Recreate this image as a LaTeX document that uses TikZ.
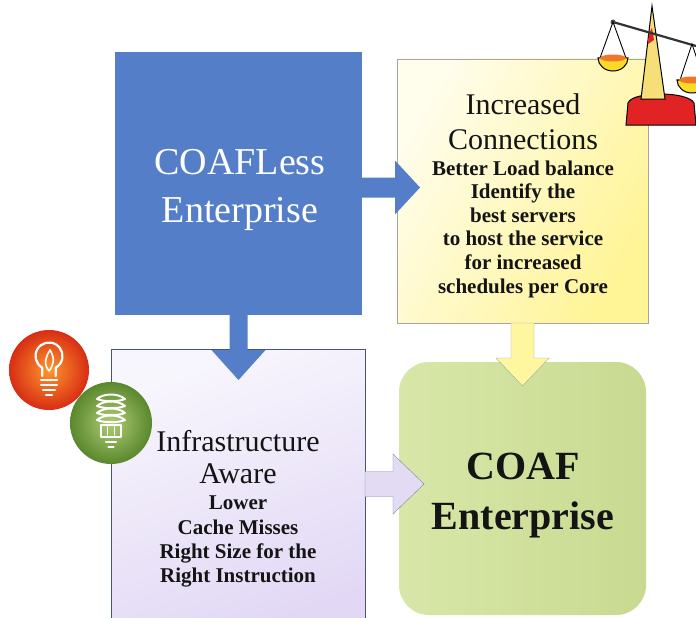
\documentclass[tikz,border=0pt]{standalone}
\usepackage{fontspec}
\setmainfont{Liberation Serif}
\usetikzlibrary{calc}
\definecolor{coafblue}{RGB}{84,126,200}
\definecolor{paleyellow}{RGB}{255,253,236}
\definecolor{deepyellow}{RGB}{255,244,150}
\definecolor{arrowyellow}{RGB}{255,247,160}
\definecolor{palelilac}{RGB}{248,246,253}
\definecolor{lilac}{RGB}{226,216,245}
\definecolor{lilacedge}{RGB}{72,82,130}
\definecolor{arrowlilac}{RGB}{226,219,243}
\definecolor{lightleaf}{RGB}{216,231,168}
\definecolor{leaf}{RGB}{200,218,145}
\definecolor{boxgray}{RGB}{165,165,165}
\definecolor{inkblack}{RGB}{20,20,20}
\definecolor{flameorange}{RGB}{255,150,45}
\definecolor{emberred}{RGB}{215,45,20}
\definecolor{mossgreen}{RGB}{175,205,115}
\definecolor{darkmoss}{RGB}{90,135,45}
\definecolor{panyellow}{RGB}{250,218,40}
\definecolor{panorange}{RGB}{238,120,40}
\definecolor{polecream}{RGB}{246,222,120}
\definecolor{basered}{RGB}{225,35,35}

\tikzset{
  box/.style={rectangle, inner sep=0pt, outer sep=0pt},
  titletext/.style={align=center, inner sep=0pt, text=inkblack},
  bodytext/.style={align=center, inner sep=0pt, text=inkblack,
    font=\fontsize{21}{23.6}\selectfont\bfseries},
  bulbline/.style={white, line width=2.2pt, line cap=round, line join=round}
}

\begin{document}
\begin{tikzpicture}[x=1pt, y=-1pt]
  \clip (0,0) rectangle (696,618);
  \fill[white] (0,0) rectangle (696,618);

  % the four blocks
  \node[box, fill=coafblue, minimum width=247pt, minimum height=263pt] (coafless) at (238.5,183.5) {};
  \node[box, draw=boxgray, top color=paleyellow, bottom color=deepyellow, shading angle=60,
        minimum width=251pt, minimum height=264pt] (connections) at (522.5,191) {};
  \node[box, draw=lilacedge, top color=palelilac, bottom color=lilac, shading angle=20,
        minimum width=254pt, minimum height=281pt] (infra) at (238,489.5) {};
  \node[box, rounded corners=30pt, left color=lightleaf, right color=leaf,
        minimum width=247pt, minimum height=253pt] (coaf) at (522.5,488.5) {};

  % block arrows
  \fill[coafblue] ($(coafless.east)+(0,-6)$) -- ++(33,0) -- ++(0,-17) -- ++(25,27)
    -- ++(-25,27) -- ++(0,-17) -- ++(-33,0) -- cycle;
  \fill[coafblue] ($(coafless.south)+(-9,0)$) -- ++(0,35) -- ++(-18,0) -- ++(27,30)
    -- ++(27,-30) -- ++(-18,0) -- ++(0,-35) -- cycle;
  \filldraw[fill=arrowyellow, draw=boxgray] ($(connections.south)+(-11.5,0)$) -- ++(0,35)
    -- ++(-15,0) -- ++(26.5,28) -- ++(26.5,-28) -- ++(-15,0) -- ++(0,-35) -- cycle;
  \filldraw[fill=arrowlilac, draw=lilacedge!70] ($(infra.east)+(0,-18)$) -- ++(28,0)
    -- ++(0,-17.5) -- ++(31,30) -- ++(-31,30) -- ++(0,-17.5) -- ++(-28,0) -- cycle;

  % texts
  \node[titletext, text=white, font=\fontsize{38}{48}\selectfont] (lessTitle) at (240,190)
    {COAFLess\\Enterprise};
  \node[titletext, font=\fontsize{30}{35}\selectfont] (connTitle) at (523,122)
    {Increased\\Connections};
  \node[bodytext] (connBody) at (523,229)
    {Better Load balance\\Identify the\\best servers\\to host the service\\for increased\\schedules per Core};
  \node[titletext, font=\fontsize{30}{32}\selectfont] (infraTitle) at (238,457)
    {Infrastructure\\Aware};
  \node[bodytext, font=\fontsize{21}{24.3}\selectfont\bfseries] (infraBody) at (238,541.7)
    {Lower\\Cache Misses\\Right Size for the\\Right Instruction};
  \node[titletext, font=\fontsize{40}{50}\selectfont\bfseries] (coafTitle) at (523,496)
    {COAF\\Enterprise};

  % orange lamp badge
  \shade[inner color=flameorange, outer color=emberred] (49,370) circle[radius=40];
  \begin{scope}[shift={(49,370)}, y=1pt]
    \draw[bulbline] (-6.75,-6) -- (-6.75,2.3) arc[start angle=240, end angle=-60, radius=13.5] -- (6.75,-6);
    \draw[bulbline] (-8,-10) -- (8,-10) (-8,-15) -- (8,-15) (-6,-20) -- (6,-20) (-3,-25) -- (3,-25);
    \draw[bulbline, line width=1.6pt] (0,-1) .. controls (-6,6) and (-3,14) .. (1,20)
      .. controls (6,12) and (5,5) .. (0,-1);
  \end{scope}

  % green lamp badge
  \shade[inner color=mossgreen, outer color=darkmoss] (111,423) circle[radius=41];
  \begin{scope}[shift={(111,423)}, y=1pt]
    \foreach \h in {24,17,10,3}
      \draw[bulbline, line width=2pt] (-14,\h) .. controls (-7,\h+6) and (7,\h+6) .. (14,\h)
        .. controls (7,\h-3) and (-7,\h-3) .. (-14,\h);
    \draw[bulbline, line width=2pt] (-10,-2) rectangle (10,-14);
    \draw[bulbline, line width=1.6pt] (-3.5,-4) -- (-3.5,-12) (3.5,-4) -- (3.5,-12);
    \draw[bulbline] (-5,-19) -- (5,-19) (-2.5,-24) -- (2.5,-24);
  \end{scope}

  % balance on top of the yellow block
  \filldraw[fill=basered, draw=black, line width=1pt] (626,125) -- (628,103)
    .. controls (632,91) and (688,91) .. (694,103) -- (696,125) -- cycle;
  \filldraw[fill=polecream, draw=black, line width=1pt] (641,99) -- (652,6) -- (665,99) -- cycle;
  \fill[basered] (649,33) -- (652,28) -- (654,40) -- (648,44) -- cycle;
  \draw[black!80, line width=2.2pt] (613,22) -- (696,46);
  \fill[black!70] (613,22) circle[radius=2.5];
  \draw[black, line width=0.9pt] (600,58) -- (613,22) -- (626,58);
  \filldraw[fill=panyellow, draw=black, line width=1pt] (598,58)
    arc[start angle=180, end angle=0, x radius=15, y radius=13] -- cycle;
  \fill[panorange] (613,58) ellipse[x radius=13, y radius=3.5];
  \draw[black, line width=0.9pt] (680,80) -- (692,44) -- (704,80);
  \filldraw[fill=panyellow, draw=black, line width=1pt] (677,80)
    arc[start angle=180, end angle=0, x radius=15, y radius=13] -- cycle;
  \fill[panorange] (692,80) ellipse[x radius=13, y radius=3.5];
\end{tikzpicture}
\end{document}
